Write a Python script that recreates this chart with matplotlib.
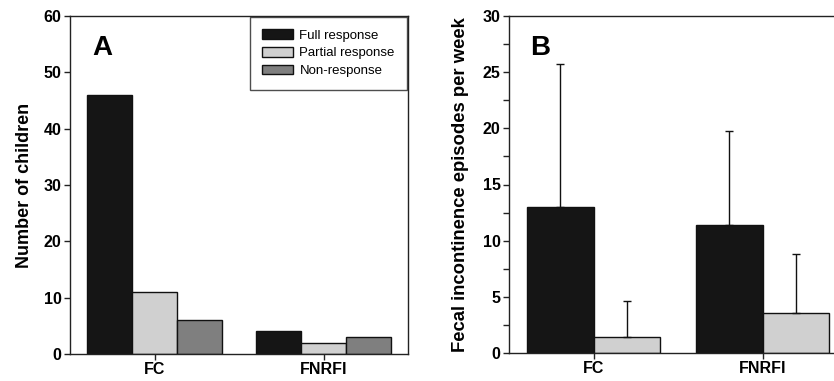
import numpy as np
import matplotlib
matplotlib.use("Agg")
import matplotlib.pyplot as plt

plt.rcParams['font.family'] = ['Liberation Sans', 'DejaVu Sans']

groups = ["FC", "FNRFI"]
responses = ["Full response", "Partial response", "Non-response"]
colors = ["#151515", "#d0d0d0", "#7f7f7f"]

# Panel A: number of children
children = {
    "Full response": [46, 4],
    "Partial response": [11, 2],
    "Non-response": [6, 3],
}

# Panel B: fecal incontinence episodes per week (mean, SD)
episodes_mean = {"Full response": [13.0, 11.4], "Partial response": [1.4, 3.6]}
episodes_sd = {"Full response": [12.7, 8.4], "Partial response": [3.2, 5.2]}

fig = plt.figure(figsize=(8.34, 3.81), dpi=100)
W, H = 834, 381

def style_axis(ax):
    for sp in ax.spines.values():
        sp.set_linewidth(1.0)
        sp.set_color("#222222")
    ax.tick_params(direction="out", length=4, width=1, labelsize=11.5, color="#222222", pad=2)
    for lbl in ax.get_xticklabels() + ax.get_yticklabels():
        lbl.set_fontweight("bold")

# ---- Panel A ----
axA = fig.add_axes([70 / W, 1 - 354 / H, 338 / W, 338 / H])
x = np.arange(len(groups))
w = 0.265
for i, name in enumerate(responses):
    axA.bar(x + (i - 1) * w, children[name], width=w, color=colors[i],
            edgecolor="#111111", linewidth=1, label=name)
axA.set_xlim(-0.5, 1.5)
axA.set_ylim(0, 60)
axA.set_yticks(range(0, 61, 10))
axA.set_xticks(x)
axA.set_xticklabels(groups)
axA.set_ylabel("Number of children", fontsize=13, fontweight="bold", labelpad=8)
style_axis(axA)
axA.text(0.066, 0.905, "A", transform=axA.transAxes, fontsize=20, fontweight="bold", va="center")
leg = axA.legend(loc="upper right", fontsize=9.5, frameon=True, fancybox=False,
                 borderaxespad=0.05, handlelength=2.3, handleheight=0.75,
                 borderpad=0.95, labelspacing=0.4, handletextpad=0.5)
leg.get_frame().set_edgecolor("#222222")
leg.get_frame().set_linewidth(1.0)

# ---- Panel B ----
axB = fig.add_axes([509 / W, 1 - 353 / H, 338 / W, 337 / H])
w2 = 0.395
for i, name in enumerate(["Full response", "Partial response"]):
    pos = x + (i - 0.5) * w2
    axB.bar(pos, episodes_mean[name], width=w2, color=colors[i],
            edgecolor="#111111", linewidth=1)
    axB.errorbar(pos, episodes_mean[name], yerr=[np.zeros(2), episodes_sd[name]],
                 fmt="none", ecolor="#111111", elinewidth=1, capsize=3, capthick=1)
axB.set_xlim(-0.5, 1.5)
axB.set_ylim(0, 30)
axB.set_yticks(range(0, 31, 5))
axB.set_yticks(np.arange(2.5, 30, 5), minor=True)
axB.set_xticks(x)
axB.set_xticklabels(groups)
axB.set_ylabel("Fecal incontinence episodes per week", fontsize=13.3, fontweight="bold", labelpad=10)
style_axis(axB)
axB.tick_params(which="minor", direction="out", length=4, width=1, color="#222222")
axB.text(0.063, 0.905, "B", transform=axB.transAxes, fontsize=20, fontweight="bold", va="center")

fig.savefig("out.png", dpi=100)
